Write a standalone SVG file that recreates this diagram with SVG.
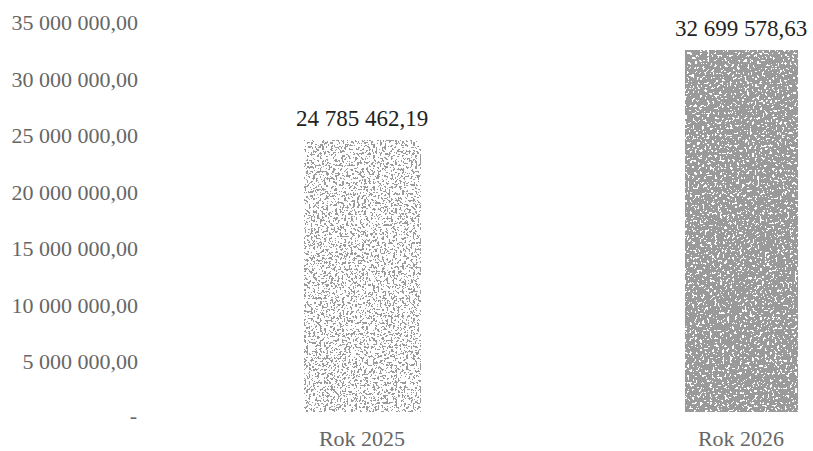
<svg xmlns="http://www.w3.org/2000/svg" width="813" height="451" viewBox="0 0 813 451">
<style>
.ax{font-family:"Liberation Serif","Times New Roman",serif;font-size:22px;fill:#666;text-anchor:end}
.val{font-family:"Liberation Serif","Times New Roman",serif;font-size:23px;fill:#222;text-anchor:middle}
.cat{font-family:"Liberation Serif","Times New Roman",serif;font-size:22px;fill:#666;text-anchor:middle}
</style>
<defs>
<filter id="speckLight" x="0" y="0" width="100%" height="100%" filterUnits="objectBoundingBox">
<feTurbulence type="fractalNoise" baseFrequency="0.45" numOctaves="2" seed="4" result="n"/>
<feColorMatrix in="n" type="matrix" values="0 0 0 0 0  0 0 0 0 0  0 0 0 0 0  1 0 0 0 0" result="a"/>
<feComponentTransfer in="a" result="t"><feFuncA type="discrete" tableValues="0 0 0 0 1 1 1"/></feComponentTransfer>
<feFlood flood-color="#9a9a9a"/>
<feComposite operator="in" in2="t" result="g"/>
<feComposite operator="in" in="g" in2="SourceGraphic"/>
</filter>
<filter id="speckDense" x="0" y="0" width="100%" height="100%" filterUnits="objectBoundingBox">
<feTurbulence type="fractalNoise" baseFrequency="0.4" numOctaves="2" seed="9" result="n"/>
<feColorMatrix in="n" type="matrix" values="0 0 0 0 0  0 0 0 0 0  0 0 0 0 0  1 0 0 0 0" result="a"/>
<feComponentTransfer in="a" result="t"><feFuncA type="discrete" tableValues="0 0 0 1 1 1 1 1"/></feComponentTransfer>
<feFlood flood-color="#9a9a9a"/>
<feComposite operator="in" in2="t" result="g"/>
<feComposite operator="in" in="g" in2="SourceGraphic"/>
</filter>
</defs>
<rect width="813" height="451" fill="#fff"/>
<g id="axis">
<text class="ax" x="138" y="30">35 000 000,00</text>
<text class="ax" x="138" y="87">30 000 000,00</text>
<text class="ax" x="138" y="143">25 000 000,00</text>
<text class="ax" x="138" y="200">20 000 000,00</text>
<text class="ax" x="138" y="256">15 000 000,00</text>
<text class="ax" x="138" y="313">10 000 000,00</text>
<text class="ax" x="138" y="369">5 000 000,00</text>
<text class="ax" x="137" y="423">-</text>
</g>
<g id="bar-2025">
<rect x="304" y="140" width="117" height="272" fill="#000" filter="url(#speckLight)"/>
<text class="val" x="362" y="126">24 785 462,19</text>
<text class="cat" x="362" y="446">Rok 2025</text>
</g>
<g id="bar-2026">
<rect x="685" y="50" width="113" height="362" fill="#000" filter="url(#speckDense)"/>
<text class="val" x="741" y="36">32 699 578,63</text>
<text class="cat" x="741" y="446">Rok 2026</text>
</g>
</svg>
